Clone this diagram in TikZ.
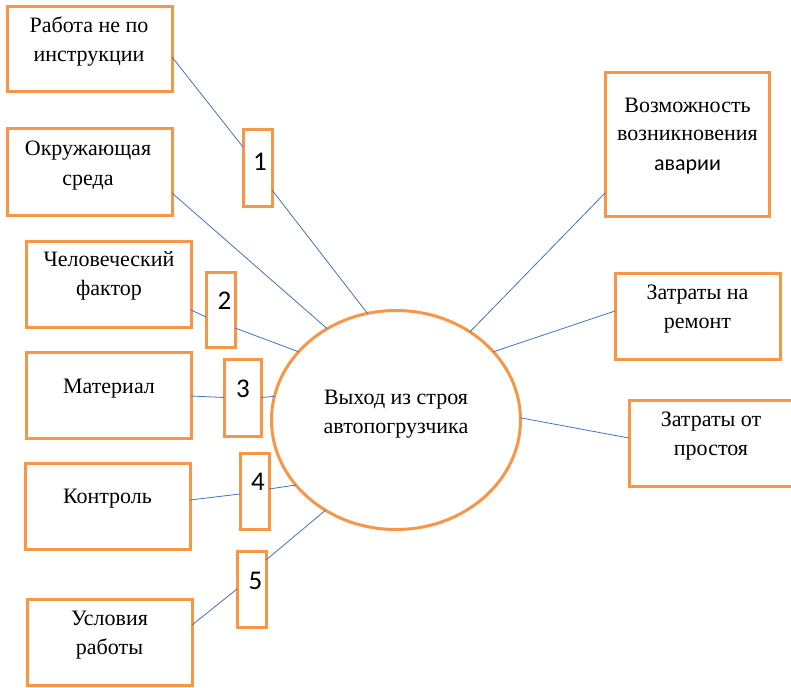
\documentclass[tikz,border=0pt]{standalone}
\usepackage{fontspec}
\setmainfont{Liberation Serif}
\newfontfamily\numfont{Carlito}
\usetikzlibrary{shapes.geometric}
\definecolor{boxorange}{HTML}{F79646}
\definecolor{lineblue}{HTML}{4472C4}
\tikzset{
  frame/.style={draw=boxorange, line width=3pt, rectangle, inner sep=0pt, outer sep=0pt, fill=white},
  bigbox/.style={frame, minimum width=165pt, minimum height=86pt},
  numbox/.style={frame, minimum width=29pt, minimum height=76pt},
  txt/.style={anchor=base, align=center, inner sep=0pt, font=\fontsize{22}{29}\selectfont},
  numtxt/.style={anchor=base, inner sep=0pt, font=\numfont\fontsize{27}{30}\selectfont},
  link/.style={draw=lineblue, line width=0.8pt}
}
\begin{document}
\begin{tikzpicture}[x=1pt, y=-1pt]
\useasboundingbox (0,0) rectangle (791,687);
\fill[white] (0,0) rectangle (791,687);

% boxes
\node[bigbox, minimum height=85pt] (b1) at (89.5,49.5) {};
\node[bigbox] (b2) at (89.5,172) {};
\node[numbox] (n1) at (257.5,168) {};
\node[bigbox] (b3) at (108.5,284) {};
\node[numbox, minimum height=75pt] (n2) at (220.5,309.5) {};
\node[bigbox] (b4) at (108.5,395) {};
\node[numbox, minimum width=37pt, minimum height=77pt] (n3) at (242.5,397.5) {};
\node[bigbox] (b5) at (107.5,506) {};
\node[numbox] (n4) at (254.5,491) {};
\node[numbox] (n5) at (251.5,589) {};
\node[bigbox] (b6) at (109.5,642) {};
\node[bigbox, minimum width=164pt, minimum height=143pt] (r1) at (687,144.5) {};
\node[bigbox] (r2) at (697.5,316) {};
\node[bigbox] (r3) at (711.5,443) {};
\node[draw=boxorange, line width=3pt, ellipse, inner sep=0pt, outer sep=0pt,
      minimum width=249pt, minimum height=219pt, fill=white] (ell) at (396,420) {};

% connectors
\draw[link] ([yshift=-7.5pt]b1.east) -- ([yshift=21pt]n1.west);
\draw[link] ([yshift=-22pt]n1.east) -- (ell.105.9);
\draw[link] ([yshift=-21pt]b2.east) -- (ell.127.7);
\draw[link] ([yshift=-26pt]b3.east) -- ([yshift=-7.5pt]n2.west);
\draw[link] ([yshift=-18.5pt]n2.east) -- (ell.145.4);
\draw[link] ([yshift=-1pt]b4.east) -- (n3.west);
\draw[link] (n3.east) -- (ell.169.9);
\draw[link] ([yshift=6pt]b5.east) -- ([yshift=-3pt]n4.west);
\draw[link] ([yshift=2pt]n4.east) -- (ell.213.8);
\draw[link] ([yshift=17pt]b6.east) -- (n5.west);
\draw[link] ([yshift=29pt]n5.east) -- (ell.232.3);
\draw[link] (ell.50.9) -- ([yshift=-48.5pt]r1.west);
\draw[link] (ell.35.4) -- ([yshift=5pt]r2.west);
\draw[link] (ell.1) -- ([yshift=5pt]r3.west);

% texts (anchor = baseline of the last line)
\node[txt] (t1) at (89,62) {Работа не по\\инструкции};
\node[txt] (t2) at (88,185) {Окружающая\\среда};
\node[txt] (t3) at (109,295) {Человеческий\\фактор};
\node[txt] (t4) at (109,393) {Материал};
\node[txt] (t5) at (107.5,503) {Контроль};
\node[txt] (t6) at (109.5,654) {Условия\\работы};
\node[txt] (t7) at (687.5,170) {Возможность\\возникновения\\{\numfont аварии}};
\node[txt] (t8) at (697.5,328) {Затраты на\\ремонт};
\node[txt] (t9) at (711,455) {Затраты от\\простоя};
\node[txt] (t10) at (396,433) {Выход из строя\\автопогрузчика};

\node[numtxt] (d1) at (260,170) {1};
\node[numtxt] (d2) at (224.5,309) {2};
\node[numtxt] (d3) at (243,397) {3};
\node[numtxt] (d4) at (258,490) {4};
\node[numtxt] (d5) at (255.5,589) {5};
\end{tikzpicture}
\end{document}
